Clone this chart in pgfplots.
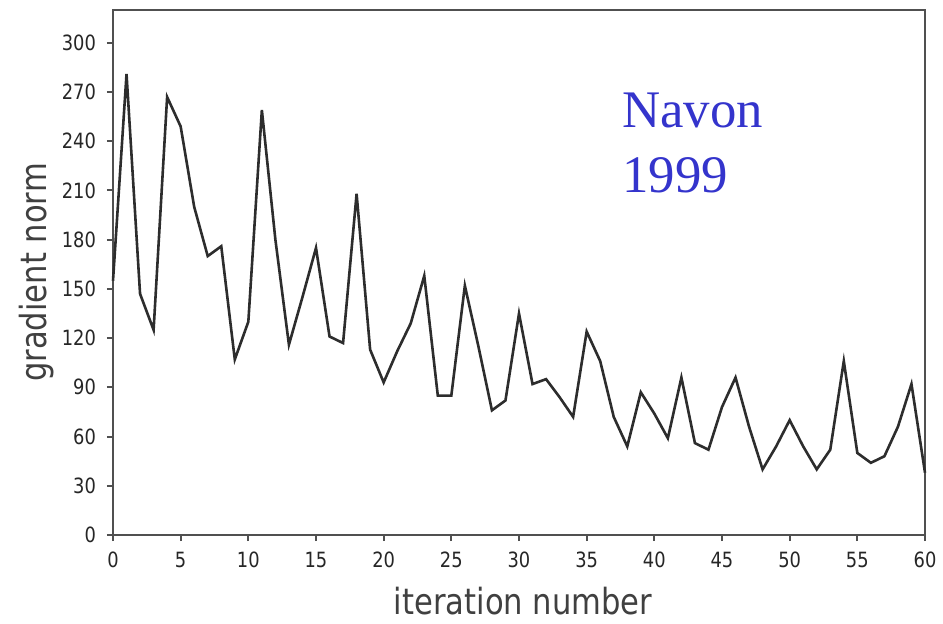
\documentclass[border=0pt]{standalone}
\usepackage{fontspec}
\usepackage{pgfplots}
\pgfplotsset{compat=1.18}
\setmainfont{Liberation Serif}
\newfontfamily\tickfont[FakeStretch=0.85]{DejaVu Sans}
\newfontfamily\labfont[FakeStretch=0.85]{DejaVu Sans}
\definecolor{navon}{RGB}{52,52,204}
\definecolor{ink}{RGB}{45,45,45}
\definecolor{axisgray}{RGB}{80,80,80}
\begin{document}
\begin{tikzpicture}
\useasboundingbox (-56.5pt,-44pt) rectangle (415pt,267.5pt);
\begin{axis}[
  at={(0,0)}, anchor=south west,
  scale only axis, width=406pt, height=262.5pt,
  xmin=0, xmax=60, ymin=0, ymax=320,
  xtick={0,5,...,60}, ytick={0,30,...,300},
  xtick pos=bottom, ytick pos=left,
  axis line style={axisgray, line width=1.4pt},
  tick style={axisgray, line width=1pt},
  tick align=outside, major tick length=3pt,
  /pgf/number format/assume math mode=true,
  ticklabel style={font=\tickfont\fontsize{10.5}{12}\selectfont, text=black!85},
  yticklabel style={xshift=-2pt},
  xticklabel style={yshift=-2pt},
  xlabel={iteration number},
  ylabel={gradient norm},
  xlabel style={font=\labfont\fontsize{18}{20}\selectfont, text=black!75, at={(axis description cs:0.505,-0.152)}, anchor=base},
  ylabel style={font=\labfont\fontsize{18}{20}\selectfont, text=black!75, at={(axis description cs:-0.0936,0.5)}, anchor=center},
  clip=false,
]
\addplot[ink, line width=1.3pt, line join=miter, mark=none] coordinates {
(0,155) (1,281) (2,147) (3,125) (4,267) (5,249) (6,200) (7,170) (8,176) (9,107)
(10,130) (11,259) (12,180) (13,116) (14,145) (15,175) (16,121) (17,117) (18,208) (19,113)
(20,93) (21,112) (22,129) (23,158) (24,85) (25,85) (26,152) (27,115) (28,76) (29,82)
(30,135) (31,92) (32,95) (33,84) (34,72) (35,124) (36,106) (37,72) (38,54) (39,87)
(40,74) (41,59) (42,96) (43,56) (44,52) (45,78) (46,96) (47,66) (48,40) (49,54)
(50,70) (51,54) (52,40) (53,52) (54,106) (55,50) (56,44) (57,48) (58,66) (59,92)
(60,38)
};
\end{axis}
\node[anchor=base west, inner sep=0pt, text=navon, font=\fontsize{26.4}{30}\selectfont] at (254.5pt,204pt) {Navon};
\node[anchor=base west, inner sep=0pt, text=navon, font=\fontsize{26.4}{30}\selectfont] at (254.5pt,171.5pt) {1999};
\end{tikzpicture}
\end{document}
